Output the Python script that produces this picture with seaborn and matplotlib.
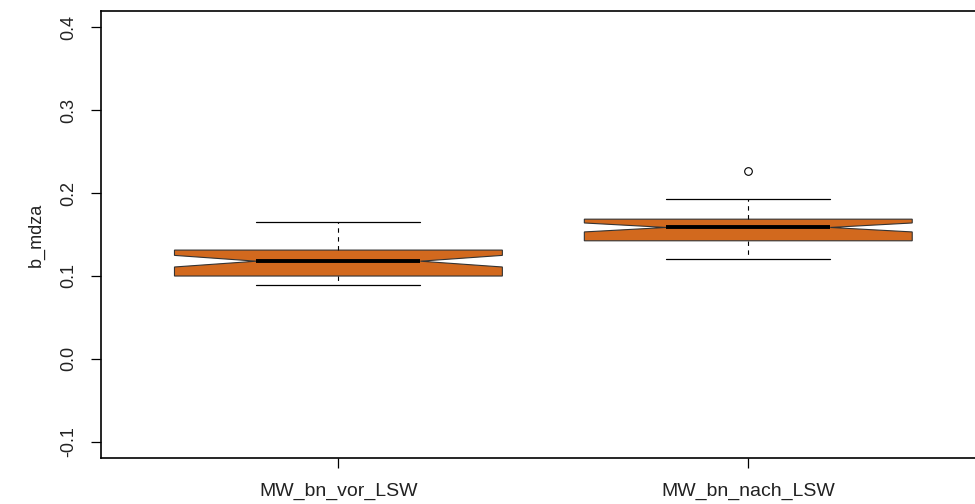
import matplotlib
matplotlib.use("Agg")
import matplotlib.pyplot as plt
import seaborn as sns

# ---- data ----
categories = ["MW_bn_vor_LSW", "MW_bn_nach_LSW"]
whisker_low = [0.089, 0.120]
q1 = [0.0999, 0.1424]
median = [0.1178, 0.1585]
q3 = [0.1312, 0.1685]
whisker_high = [0.1645, 0.1934]
notch_half = [0.0070, 0.0054]
outliers = [[], [0.2266]]
y_ticks = [-0.1, 0.0, 0.1, 0.2, 0.3, 0.4]
y_label = "b_mdza"

sns.set_style("white")
plt.rcParams["font.family"] = ["Liberation Sans", "DejaVu Sans"]

fig = plt.figure(figsize=(9.75, 5.04), dpi=100)
ax = fig.add_axes([100.7 / 975, (504 - 458.3) / 504, (986 - 100.7) / 975, (458.3 - 10.7) / 504])

stats = []
for i, name in enumerate(categories):
    stats.append(dict(
        label=name, whislo=whisker_low[i], q1=q1[i], med=median[i], q3=q3[i],
        whishi=whisker_high[i], cilo=median[i] - notch_half[i],
        cihi=median[i] + notch_half[i], fliers=outliers[i]))

fill = "#D2691E"
ax.bxp(stats, positions=[1, 2], widths=0.8, shownotches=True, patch_artist=True,
       boxprops=dict(facecolor=fill, edgecolor="#333333", linewidth=0.8),
       medianprops=dict(color="black", linewidth=2.8, solid_capstyle="butt"),
       whiskerprops=dict(color="black", linewidth=0.8, linestyle=(0, (4, 4))),
       capprops=dict(color="black", linewidth=0.9),
       flierprops=dict(marker="o", markerfacecolor="none", markeredgecolor="black",
                       markersize=5.5, markeredgewidth=0.8))

ax.set_xlim(0.42, 2.58)
ax.set_ylim(-0.12, 0.42)
ax.set_xticks([1, 2])
ax.set_xticklabels(categories, fontsize=14, color="#222222")
ax.set_yticks(y_ticks)
ax.set_yticklabels([f"{v:.1f}" for v in y_ticks], fontsize=13, color="#222222",
                   rotation=90, va="center")
ax.tick_params(axis="both", direction="out", length=7, width=0.9, color="black",
               left=True, bottom=True)
ax.tick_params(axis="x", pad=11)
ax.tick_params(axis="y", pad=10)
ax.set_ylabel(y_label, fontsize=13, color="#222222", labelpad=11)
ax.set_xlabel("")
for s in ax.spines.values():
    s.set_color("black")
    s.set_linewidth(1.2)
    s.set_visible(True)
ax.grid(False)

fig.savefig("out.png", dpi=100, facecolor="white")
